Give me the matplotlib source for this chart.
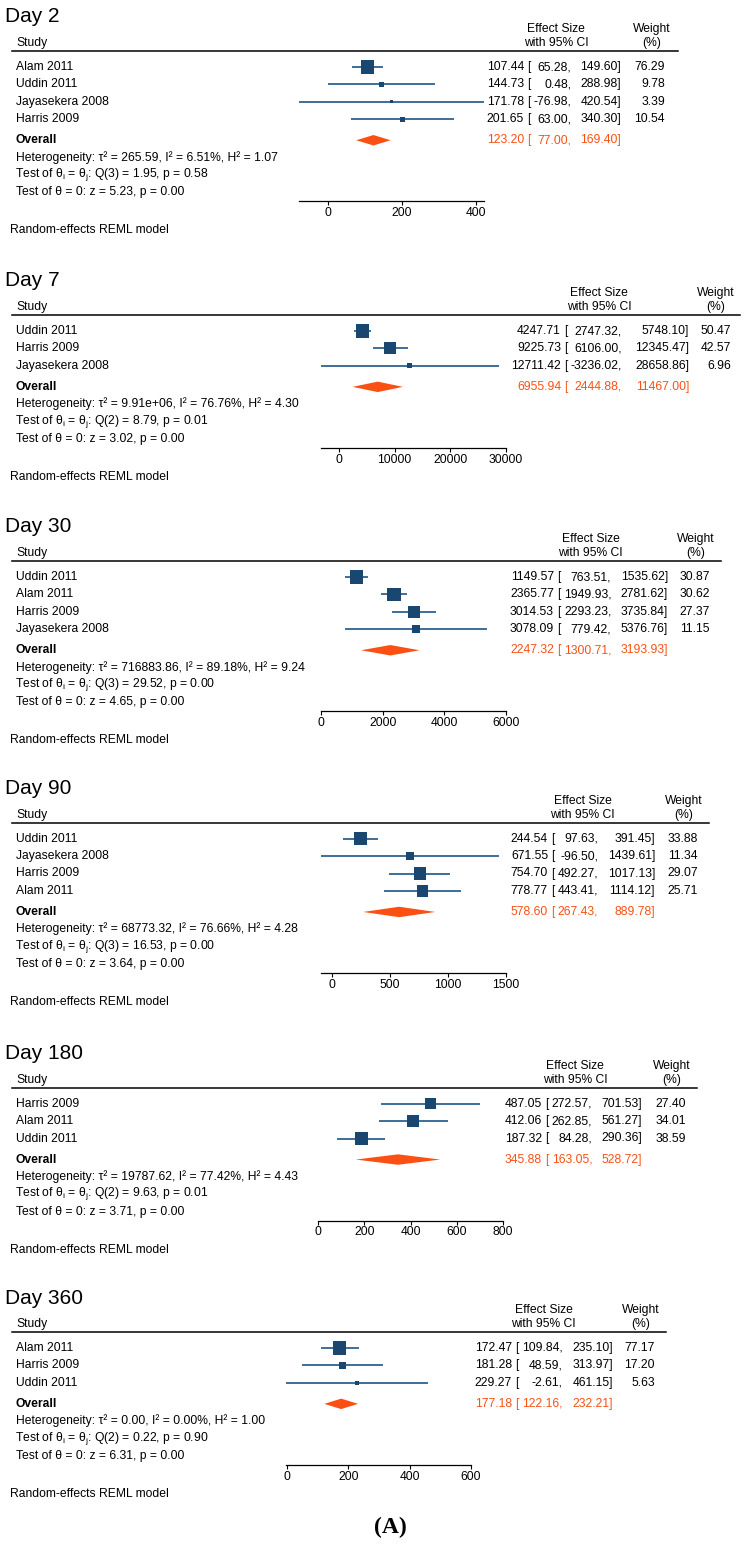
import matplotlib
matplotlib.use('Agg')
import matplotlib.pyplot as plt
from matplotlib.lines import Line2D

plt.rcParams['font.family'] = ['Liberation Sans', 'DejaVu Sans']
plt.rcParams['mathtext.fontset'] = 'custom'
plt.rcParams['mathtext.rm'] = 'Liberation Sans'
plt.rcParams['mathtext.it'] = 'Liberation Sans:italic'

# ---- data (Stata meta forestplot output) ----
day2_study = ['Alam 2011', 'Uddin 2011', 'Jayasekera 2008', 'Harris 2009']
day2_es = [107.44, 144.73, 171.78, 201.65]
day2_lo = [65.28, 0.48, -76.98, 63.00]
day2_hi = [149.60, 288.98, 420.54, 340.30]
day2_wt = [76.29, 9.78, 3.39, 10.54]
day2_overall = [123.20, 77.00, 169.40]
day2_het = [265.59, 6.51, 1.07]        # tau2, I2, H2
day2_tests = [1.95, 0.58, 5.23, 0.00]  # Q, p, z, p
day2_ticks = [0, 200, 400]

day7_study = ['Uddin 2011', 'Harris 2009', 'Jayasekera 2008']
day7_es = [4247.71, 9225.73, 12711.42]
day7_lo = [2747.32, 6106.00, -3236.02]
day7_hi = [5748.10, 12345.47, 28658.86]
day7_wt = [50.47, 42.57, 6.96]
day7_overall = [6955.94, 2444.88, 11467.00]
day7_het = [9.91e6, 76.76, 4.30]
day7_tests = [8.79, 0.01, 3.02, 0.00]
day7_ticks = [0, 10000, 20000, 30000]

day30_study = ['Uddin 2011', 'Alam 2011', 'Harris 2009', 'Jayasekera 2008']
day30_es = [1149.57, 2365.77, 3014.53, 3078.09]
day30_lo = [763.51, 1949.93, 2293.23, 779.42]
day30_hi = [1535.62, 2781.62, 3735.84, 5376.76]
day30_wt = [30.87, 30.62, 27.37, 11.15]
day30_overall = [2247.32, 1300.71, 3193.93]
day30_het = [716883.86, 89.18, 9.24]
day30_tests = [29.52, 0.00, 4.65, 0.00]
day30_ticks = [0, 2000, 4000, 6000]

day90_study = ['Uddin 2011', 'Jayasekera 2008', 'Harris 2009', 'Alam 2011']
day90_es = [244.54, 671.55, 754.70, 778.77]
day90_lo = [97.63, -96.50, 492.27, 443.41]
day90_hi = [391.45, 1439.61, 1017.13, 1114.12]
day90_wt = [33.88, 11.34, 29.07, 25.71]
day90_overall = [578.60, 267.43, 889.78]
day90_het = [68773.32, 76.66, 4.28]
day90_tests = [16.53, 0.00, 3.64, 0.00]
day90_ticks = [0, 500, 1000, 1500]

day180_study = ['Harris 2009', 'Alam 2011', 'Uddin 2011']
day180_es = [487.05, 412.06, 187.32]
day180_lo = [272.57, 262.85, 84.28]
day180_hi = [701.53, 561.27, 290.36]
day180_wt = [27.40, 34.01, 38.59]
day180_overall = [345.88, 163.05, 528.72]
day180_het = [19787.62, 77.42, 4.43]
day180_tests = [9.63, 0.01, 3.71, 0.00]
day180_ticks = [0, 200, 400, 600, 800]

day360_study = ['Alam 2011', 'Harris 2009', 'Uddin 2011']
day360_es = [172.47, 181.28, 229.27]
day360_lo = [109.84, 48.59, -2.61]
day360_hi = [235.10, 313.97, 461.15]
day360_wt = [77.17, 17.20, 5.63]
day360_overall = [177.18, 122.16, 232.21]
day360_het = [0.00, 0.00, 1.00]
day360_tests = [0.22, 0.90, 6.31, 0.00]
day360_ticks = [0, 200, 400, 600]

panels = [
    ('Day 2', day2_study, day2_es, day2_lo, day2_hi, day2_wt, day2_overall, day2_het, day2_tests, day2_ticks),
    ('Day 7', day7_study, day7_es, day7_lo, day7_hi, day7_wt, day7_overall, day7_het, day7_tests, day7_ticks),
    ('Day 30', day30_study, day30_es, day30_lo, day30_hi, day30_wt, day30_overall, day30_het, day30_tests, day30_ticks),
    ('Day 90', day90_study, day90_es, day90_lo, day90_hi, day90_wt, day90_overall, day90_het, day90_tests, day90_ticks),
    ('Day 180', day180_study, day180_es, day180_lo, day180_hi, day180_wt, day180_overall, day180_het, day180_tests, day180_ticks),
    ('Day 360', day360_study, day360_es, day360_lo, day360_hi, day360_wt, day360_overall, day360_het, day360_tests, day360_ticks),
]

# ---- layout in pixels ----
W, H = 746, 1547
ROW = 17.4
FS = 8.7
NAVY = '#1a476f'
CI_BLUE = '#3d6e99'
ORANGE = '#fa5014'
# header-line y, axis right end, est right, upper right, weight right,
# effect-size header centre, weight header centre, header-line end
layout = [
    (51, 484, 524, 621, 665, 556, 652, 678),
    (315, 506, 561, 689, 731, 599, 716, 740),
    (561, 506, 554, 668, 710, 590.7, 696, 721),
    (822.7, 506, 548, 655, 698, 582.6, 684, 709),
    (1087.7, 503, 542, 642, 686, 575, 672, 697),
    (1332, 471, 512, 613, 655, 543.5, 641, 666),
]
AX_W = 185

fig = plt.figure(figsize=(W / 100, H / 100), dpi=100)
renderer = fig.canvas.get_renderer()


def text_w(s):
    t = fig.text(0, 0, s, fontsize=FS)
    w = t.get_window_extent(renderer).width
    t.remove()
    return w


def ftext(x, y, s, **kw):
    kw.setdefault('fontsize', FS)
    kw.setdefault('va', 'center')
    fig.text(x / W, 1 - y / H, s, **kw)


for (title, study, es, lo, hi, wt, overall, het, tests, ticks), lay in zip(panels, layout):
    line_y, ax_r, est_r, hi_r, wt_r, es_c, wt_c, line_end = lay
    n = len(study)
    row0 = line_y + 16
    axis_y = row0 + (n + 3.72) * ROW

    # "[" right after the estimate, lower bound column sized to its widest entry
    brk = est_r + 3
    lo_txt = [f'{v:.2f},' for v in lo + [overall[1]]]
    lo_r = brk + text_w('[ ') + max(text_w(s) for s in lo_txt)

    # headers
    ftext(5, line_y - 34, title, fontsize=15)
    ftext(16, line_y - 8, 'Study')
    ftext(es_c, line_y - 22, 'Effect Size', ha='center')
    ftext(es_c, line_y - 8, 'with 95% CI', ha='center')
    ftext(wt_c, line_y - 22, 'Weight', ha='center')
    ftext(wt_c, line_y - 8, '(%)', ha='center')
    fig.add_artist(Line2D([12 / W, line_end / W], [1 - line_y / H] * 2,
                          color='black', lw=1.1, transform=fig.transFigure))

    # study rows
    for i in range(n):
        y = row0 + i * ROW
        ftext(16, y, study[i])
        ftext(est_r, y, f'{es[i]:.2f}', ha='right')
        ftext(brk, y, '[', ha='left')
        ftext(lo_r, y, lo_txt[i], ha='right')
        ftext(hi_r, y, f'{hi[i]:.2f}]', ha='right')
        ftext(wt_r, y, f'{wt[i]:.2f}', ha='right')

    yo = row0 + (n + 0.21) * ROW
    ftext(16, yo, 'Overall', fontweight='bold')
    ftext(est_r, yo, f'{overall[0]:.2f}', ha='right', color=ORANGE)
    ftext(brk, yo, '[', ha='left', color=ORANGE)
    ftext(lo_r, yo, lo_txt[-1], ha='right', color=ORANGE)
    ftext(hi_r, yo, f'{overall[2]:.2f}]', ha='right', color=ORANGE)

    tau = f'{het[0]:.2e}' if het[0] >= 1e6 else f'{het[0]:.2f}'
    ftext(16, row0 + (n + 1.19) * ROW,
          f'Heterogeneity: τ² = {tau}, I² = {het[1]:.2f}%, H² = {het[2]:.2f}')
    ftext(15, row0 + (n + 2.18) * ROW,
          r'Test of $\mathregular{\theta_i}$ = $\mathregular{\theta_j}$: '
          f'Q({n - 1}) = {tests[0]:.2f}, p = {tests[1]:.2f}')
    ftext(16, row0 + (n + 3.2) * ROW,
          f'Test of θ = 0: z = {tests[2]:.2f}, p = {tests[3]:.2f}')
    ftext(10, axis_y + 29, 'Random-effects REML model')

    # forest panel
    ax = fig.add_axes([(ax_r - AX_W) / W, 1 - axis_y / H, AX_W / W, (axis_y - line_y) / H])
    ax.set_xlim(min(min(lo), ticks[0]), max(max(hi), ticks[-1]))
    ax.set_ylim(n + 3.72, -(row0 - line_y) / ROW)
    rows = list(range(n))
    ax.hlines(rows, lo, hi, color=CI_BLUE, lw=1.4, clip_on=False, zorder=2)
    wmax = max(wt)
    ax.scatter(es, rows, marker='s', s=[90 * w / wmax for w in wt],
               color=NAVY, linewidths=0, zorder=3, clip_on=False)
    r = n + 0.21
    ax.fill([overall[1], overall[0], overall[2], overall[0]],
            [r, r - 0.3, r, r + 0.3], color=ORANGE, lw=0, clip_on=False)
    for side in ('top', 'left', 'right'):
        ax.spines[side].set_visible(False)
    ax.spines['bottom'].set_linewidth(0.9)
    ax.set_yticks([])
    ax.set_xticks(ticks)
    ax.set_xticklabels([str(t) for t in ticks])
    ax.tick_params(axis='x', length=3, width=0.8, pad=1.2, labelsize=FS)
    ax.patch.set_visible(False)

ftext(390, 1527, '(A)', fontsize=17, fontweight='bold', ha='center',
      family='Liberation Serif')

fig.savefig('out.png', dpi=100)
